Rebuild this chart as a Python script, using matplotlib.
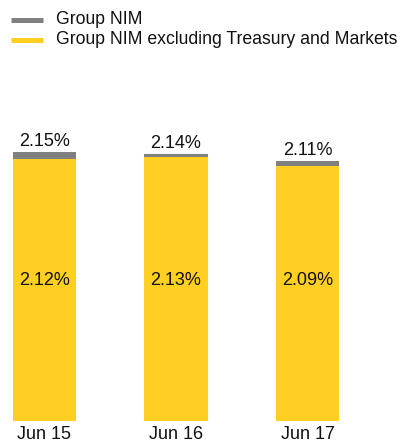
import matplotlib
matplotlib.use("Agg")
import matplotlib.pyplot as plt
from matplotlib.lines import Line2D

plt.rcParams['font.family'] = ['Liberation Sans', 'DejaVu Sans']

categories = ["Jun 15", "Jun 16", "Jun 17"]
group_nim = [2.15, 2.14, 2.11]
nim_ex_tm = [2.12, 2.13, 2.09]
baseline = 1.0

GREY = "#808080"
YELLOW = "#FFCF21"

W, H = 406, 444
fig = plt.figure(figsize=(W / 100, H / 100), dpi=100)
ax = fig.add_axes([0, 23 / H, 1, 321 / H])

x = list(range(len(categories)))
bw = 0.48
ex_heights = [v - baseline for v in nim_ex_tm]
grey_heights = [g - e for g, e in zip(group_nim, nim_ex_tm)]
ax.bar(x, ex_heights, bottom=baseline, width=bw, color=YELLOW, linewidth=0)
ax.bar(x, grey_heights, bottom=nim_ex_tm, width=bw, color=GREY, linewidth=0)

ax.set_xlim(-0.338, 2.749)
ax.set_ylim(baseline, baseline + 321 / 234)

for xi, g, e in zip(x, group_nim, nim_ex_tm):
    ax.annotate(f"{g:.2f}%", (xi, g), xytext=(0, 4.4), textcoords="offset points",
                ha="center", va="baseline", fontsize=13, color="#111111")
    ax.text(xi, 1.60, f"{e:.2f}%", ha="center", va="center", fontsize=13, color="#111111")

ax.set_xticks(x)
ax.set_xticklabels(categories, fontsize=13, color="#111111")
ax.tick_params(axis="x", length=0, pad=3.8)
ax.set_yticks([])
for s in ax.spines.values():
    s.set_visible(False)

# legend
legend_items = [("Group NIM", GREY, 19.8), ("Group NIM excluding Treasury and Markets", YELLOW, 39.8)]
for label, col, yc in legend_items:
    yf = 1 - yc / H
    fig.add_artist(Line2D([11 / W, 43.5 / W], [yf, yf], color=col, linewidth=5 * 0.72,
                          solid_capstyle="butt", transform=fig.transFigure))
    fig.text(56 / W, yf, label, ha="left", va="center", fontsize=12.7, color="#111111")

fig.savefig("out.png", dpi=100)
